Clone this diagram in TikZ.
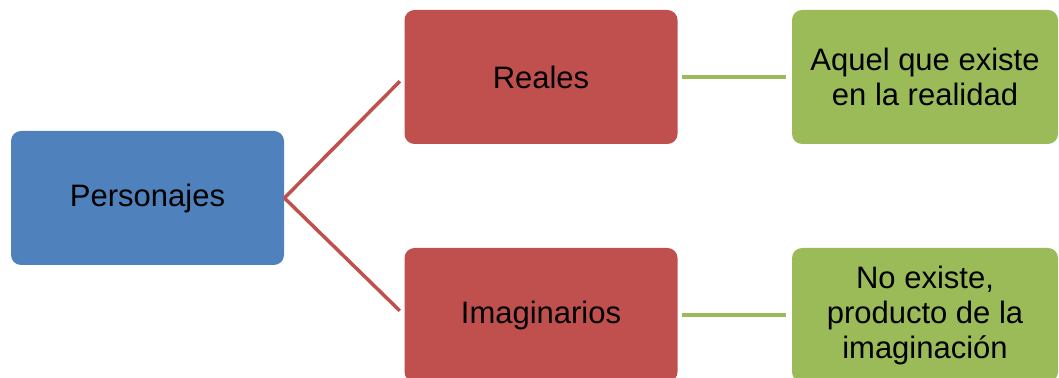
\documentclass[tikz,border=0pt]{standalone}
\usepackage{fontspec}
\setmainfont{Liberation Sans}
\definecolor{boxblue}{HTML}{4F81BD}
\definecolor{boxred}{HTML}{C0504D}
\definecolor{boxgreen}{HTML}{9BBB59}
\begin{document}
\begin{tikzpicture}[x=0.5pt, y=-0.5pt,
  box/.style={rectangle, rounded corners=5pt, minimum height=67pt, minimum width=136.5pt,
    inner sep=0pt, align=center, font=\fontsize{15.5}{17.5}\selectfont},
  rootbox/.style={box, fill=boxblue},
  branchbox/.style={box, fill=boxred},
  leafbox/.style={box, fill=boxgreen, minimum width=133pt},
  redline/.style={draw=boxred, line width=1.75pt, shorten >=3pt},
  greenline/.style={draw=boxgreen, line width=2.25pt, shorten <=2pt, shorten >=3pt}]
\useasboundingbox (0,0) rectangle (1059,378);
\clip (0,0) rectangle (1059,378);
% nodes
\node [rootbox] (pers) at (147.5,198) {Personajes};
\node [branchbox] (reales) at (541,77) {Reales};
\node [branchbox] (imag) at (541,315) {Imaginarios};
\node [leafbox] (realdef) at (925,77) {Aquel que existe\\en la realidad};
\node [leafbox] (imagdef) at (925,315) {No existe,\\producto de la\\imaginación};
% connectors
\draw [redline] (pers.east) -- (reales.west);
\draw [redline] (pers.east) -- (imag.west);
\draw [greenline] (reales.east) -- (realdef.west);
\draw [greenline] (imag.east) -- (imagdef.west);
\end{tikzpicture}
\end{document}
